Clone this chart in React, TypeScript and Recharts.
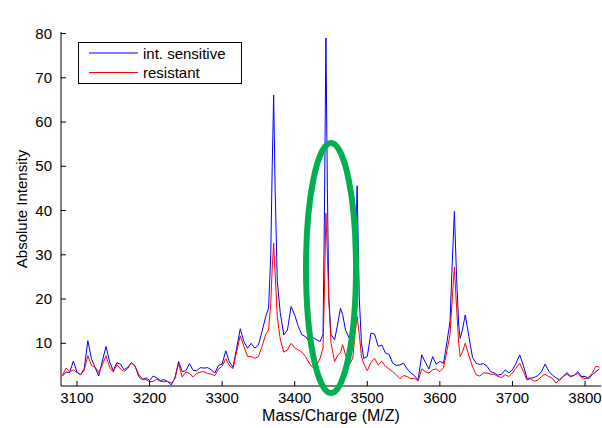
import { LineChart, Line, XAxis, YAxis, Legend, ReferenceDot } from "recharts"

const FONT = '"Liberation Sans", Arial, Helvetica, sans-serif'

// m/z sample positions (denser around the peaks)
const MZ = [
  3080, 3085, 3090, 3095, 3100, 3105, 3110, 3115, 3120, 3125,
  3130, 3135, 3140, 3145, 3150, 3155, 3160, 3165, 3170, 3175,
  3180, 3185, 3190, 3195, 3200, 3205, 3210, 3215, 3220, 3225,
  3230, 3235, 3240, 3245, 3250, 3255, 3260, 3265, 3270, 3275,
  3280, 3285, 3290, 3295, 3300, 3305, 3310, 3315, 3320, 3325,
  3330, 3335, 3340, 3345, 3350, 3355, 3360, 3364, 3367, 3369,
  3371, 3373, 3376, 3380, 3385, 3390, 3395, 3400, 3405, 3410,
  3415, 3420, 3425, 3430, 3435, 3439, 3441, 3443, 3445, 3447,
  3450, 3455, 3460, 3463, 3466, 3470, 3475, 3480, 3483, 3486,
  3489, 3492, 3495, 3500, 3505, 3510, 3515, 3520, 3525, 3530,
  3535, 3540, 3545, 3550, 3555, 3560, 3565, 3570, 3575, 3580,
  3585, 3590, 3595, 3600, 3605, 3610, 3614, 3617, 3620, 3623,
  3626, 3628, 3631, 3635, 3640, 3645, 3650, 3655, 3660, 3665,
  3670, 3675, 3680, 3685, 3690, 3695, 3700, 3705, 3710, 3715,
  3720, 3725, 3730, 3735, 3740, 3745, 3750, 3755, 3760, 3765,
  3770, 3775, 3780, 3785, 3790, 3795, 3800, 3805, 3810, 3815,
  3820,
]

const INT_SENSITIVE = [
  2.6, 3.5, 3.4, 6.0, 3.5, 2.9, 4.2, 10.6, 6.5, 4.5,
  2.6, 6.0, 9.3, 5.8, 3.8, 5.6, 5.3, 4.0, 4.6, 5.6,
  4.9, 2.5, 1.8, 2.2, 1.6, 2.6, 2.2, 1.6, 1.8, 1.3,
  0.6, 2.2, 5.9, 3.6, 3.8, 5.4, 3.9, 3.8, 4.5, 4.4,
  4.5, 4.0, 3.3, 5.0, 5.3, 8.3, 5.8, 4.6, 8.9, 13.3,
  10.4, 8.9, 10.0, 8.9, 9.6, 12.7, 16.0, 18, 30, 50,
  66.1, 45, 24, 17, 11.9, 13.0, 18.3, 16.4, 13.8, 11.9,
  11.5, 10.4, 11.3, 10.8, 10.4, 12, 40, 79, 45, 20,
  12, 10.8, 15, 17.9, 16.5, 13, 11.2, 12.5, 25, 45.6,
  20, 10, 6.6, 7.0, 12.3, 12.1, 9.3, 9.6, 7.8, 7.5,
  5.5, 5.0, 5.1, 5.5, 4.2, 3.3, 2.7, 1.7, 7.4, 5.7,
  4.2, 7.0, 5.3, 5.9, 5.5, 10.5, 15, 28, 39.8, 25,
  14, 11.1, 13, 16.4, 11.5, 6.8, 5.5, 5.2, 5.4, 4.8,
  3.6, 3.3, 2.8, 3.0, 4.0, 3.3, 4.0, 5.5, 7.4, 5.0,
  2.1, 2.1, 2.3, 2.7, 3.6, 5.3, 3.7, 2.8, 2.2, 1.7,
  2.5, 3.4, 2.6, 2.7, 3.6, 2.5, 2.5, 2.0, 2.9, 3.6,
  4.2,
]

const RESISTANT = [
  2.8, 4.4, 3.6, 4.0, 3.4, 2.9, 3.9, 7.2, 5.0, 4.6,
  3.4, 5.2, 7.2, 4.6, 3.5, 5.2, 4.2, 3.6, 4.3, 5.6,
  4.8, 3.0, 2.0, 1.8, 1.3, 1.4, 1.9, 1.4, 1.3, 1.4,
  1.0, 2.0, 5.4, 2.4, 3.5, 3.2, 2.4, 3.2, 3.5, 3.6,
  3.2, 3.0, 2.7, 4.2, 4.8, 6.5, 5.0, 4.3, 8.1, 11.7,
  9.3, 7.0, 7.0, 6.6, 7.0, 9.3, 12.0, 13, 19, 27,
  32.6, 26, 16, 11, 8.0, 8.5, 10.0, 9.0, 8.5, 8.0,
  7.0, 5.5, 4.5, 5.0, 6.6, 9, 22, 39.4, 30, 20,
  10, 5.9, 7.5, 7.8, 9.7, 7.4, 5.2, 6.6, 12, 16,
  12, 7, 5.5, 3.8, 5.7, 6.6, 5.1, 5.9, 4.8, 4.2,
  3.6, 2.9, 2.0, 2.7, 2.5, 2.0, 2.1, 1.5, 4.2, 3.6,
  3.3, 4.0, 4.2, 3.6, 4.5, 8.5, 12, 20, 27.2, 18,
  10, 7.0, 8, 10, 7.2, 4.7, 2.9, 2.6, 3.3, 3.3,
  3.0, 3.0, 2.5, 2.3, 2.9, 2.5, 3.3, 4.4, 5.5, 3.7,
  1.7, 2.0, 1.4, 1.7, 2.5, 3.0, 2.5, 2.1, 1.0, 1.8,
  2.5, 3.0, 2.4, 2.8, 3.2, 2.3, 2.0, 2.3, 3.3, 4.8,
  4.6,
]

const X_TICKS = [3100, 3200, 3300, 3400, 3500, 3600, 3700, 3800]
const Y_TICKS = [10, 20, 30, 40, 50, 60, 70, 80]
const X_DOMAIN = [3078, 3822]
const Y_DOMAIN = [0.35, 80.35]

// green ring drawn around the 3445 peak
const HIGHLIGHT_MZ = 3450
const HIGHLIGHT_INTENSITY = 27

const data = MZ.map((mz, i) => ({ mz, sensitive: INT_SENSITIVE[i], resistant: RESISTANT[i] }))

const bottomTick = ({ x, y, payload }: any) => (
  <g>
    <line x1={x} x2={x} y1={y} y2={y - 5} stroke="#000" />
    <text x={x} y={y + 17} textAnchor="middle" fontSize={15} fontFamily={FONT} fill="#000">
      {payload.value}
    </text>
  </g>
)

const topTick = ({ x, y }: any) => <line x1={x} x2={x} y1={y} y2={y + 5} stroke="#000" />

const leftTick = ({ x, y, payload }: any) => (
  <g>
    <line x1={x} x2={x + 5} y1={y} y2={y} stroke="#000" />
    <text x={x - 9} y={y + 5} textAnchor="end" fontSize={15} fontFamily={FONT} fill="#000">
      {payload.value}
    </text>
  </g>
)

const rightTick = ({ x, y }: any) => <line x1={x} x2={x - 5} y1={y} y2={y} stroke="#000" />

const title = ({ viewBox }: any) => (
  <text x={viewBox.x + viewBox.width / 2} y={viewBox.y - 13} textAnchor="middle" fontSize={16} fontFamily={FONT} fill="#000">
    resistant vs intermediate sensitive CM10
  </text>
)

const xLabel = ({ viewBox }: any) => (
  <text x={viewBox.x + viewBox.width / 2} y={viewBox.y + 35} textAnchor="middle" fontSize={16} fontFamily={FONT} fill="#000">
    Mass/Charge (M/Z)
  </text>
)

const yLabel = ({ viewBox }: any) => {
  const cx = 21
  const cy = viewBox.y + viewBox.height / 2
  return (
    <text x={cx} y={cy} transform={`rotate(-90 ${cx} ${cy})`} textAnchor="middle" dominantBaseline="central" fontSize={15} fontFamily={FONT} fill="#000">
      Absolute Intensity
    </text>
  )
}

const legendBox = ({ payload }: any) => (
  <svg width={164} height={42} style={{ display: "block" }}>
    <rect x={0.5} y={0.5} width={163} height={41} fill="#fff" stroke="#000" />
    {(payload || []).map((entry: any, i: number) => (
      <g key={entry.value}>
        <line x1={11} x2={60} y1={11 + i * 19.5} y2={11 + i * 19.5} stroke={entry.color} />
        <text x={65} y={17 + i * 19} fontSize={15} fontFamily={FONT} fill="#000">
          {entry.value}
        </text>
      </g>
    ))}
  </svg>
)

const ring = (props: any) => (
  <ellipse cx={props.cx} cy={props.cy} rx={25} ry={125} fill="none" stroke="#00b050" strokeWidth={6} />
)

export default function App() {
  return (
    <div style={{ position: "absolute", left: 0, top: 0, width: 602, height: 428, background: "#fff" }}>
      <LineChart width={602} height={428} data={data} margin={{ top: 32, right: 1, bottom: 0, left: 0 }}>
        <XAxis
          dataKey="mz"
          type="number"
          domain={X_DOMAIN}
          ticks={X_TICKS}
          allowDataOverflow
          height={42}
          tickSize={0}
          tickMargin={0}
          tickLine={false}
          axisLine={{ stroke: "#000" }}
          tick={bottomTick}
          interval={0}
          label={xLabel}
        />
        <XAxis
          xAxisId="top"
          orientation="top"
          dataKey="mz"
          type="number"
          domain={X_DOMAIN}
          ticks={X_TICKS}
          allowDataOverflow
          height={0}
          tickSize={0}
          tickMargin={0}
          tickLine={false}
          axisLine={{ stroke: "#000" }}
          tick={topTick}
          interval={0}
          label={title}
        />
        <YAxis
          type="number"
          domain={Y_DOMAIN}
          ticks={Y_TICKS}
          allowDataOverflow
          width={61}
          tickSize={0}
          tickMargin={0}
          tickLine={false}
          axisLine={{ stroke: "#000" }}
          tick={leftTick}
          interval={0}
          label={yLabel}
        />
        <YAxis
          yAxisId="right"
          orientation="right"
          type="number"
          domain={Y_DOMAIN}
          ticks={Y_TICKS}
          allowDataOverflow
          width={0}
          tickSize={0}
          tickMargin={0}
          tickLine={false}
          axisLine={{ stroke: "#000" }}
          tick={rightTick}
          interval={0}
        />
        <Line type="linear" dataKey="sensitive" name="int. sensitive" stroke="#0000ff" strokeWidth={1} dot={false} isAnimationActive={false} />
        <Line type="linear" dataKey="resistant" name="resistant" stroke="#ff0000" strokeWidth={1} dot={false} isAnimationActive={false} />
        <ReferenceDot x={HIGHLIGHT_MZ} y={HIGHLIGHT_INTENSITY} r={0} ifOverflow="visible" shape={ring} />
        <Legend
          layout="vertical"
          align="center"
          verticalAlign="middle"
          wrapperStyle={{ left: 78, top: 42, width: 164, height: 42 }}
          content={legendBox}
        />
      </LineChart>
    </div>
  )
}
